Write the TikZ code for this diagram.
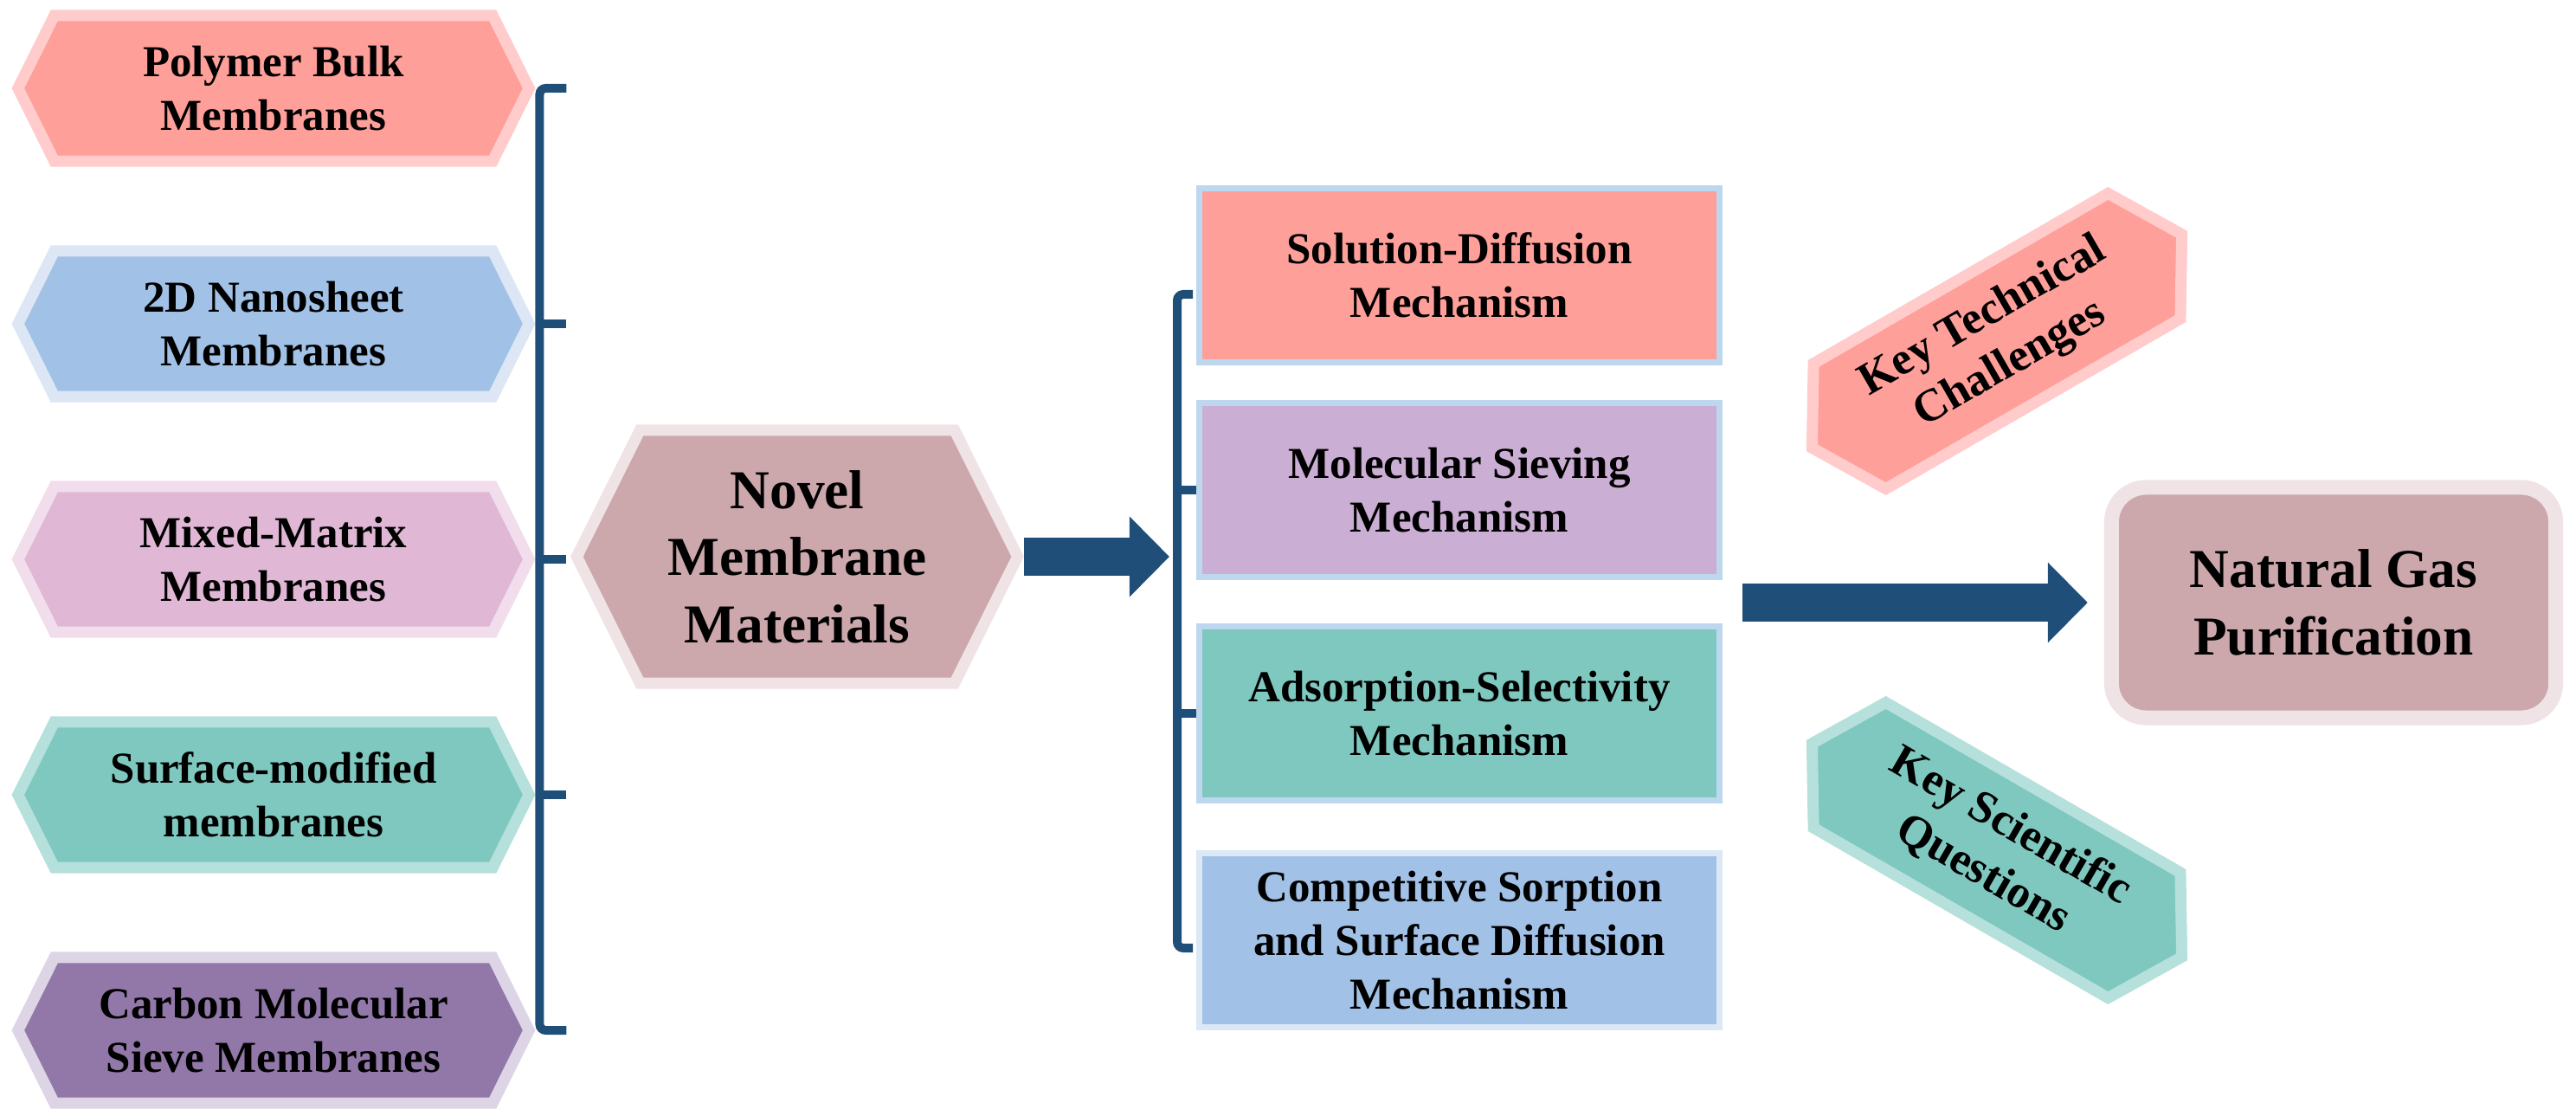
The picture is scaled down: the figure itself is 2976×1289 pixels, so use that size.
\documentclass[tikz,border=0pt]{standalone}
\usepackage{fontspec}
\setmainfont{Liberation Serif}
\usetikzlibrary{shapes.symbols,arrows.meta,calc}

\definecolor{navy}{HTML}{1F4E79}
\definecolor{polyfill}{HTML}{FF9F9A}
\definecolor{polyline}{HTML}{FFCBCB}
\definecolor{nanofill}{HTML}{A2C1E6}
\definecolor{nanoline}{HTML}{DCE6F4}
\definecolor{mixfill}{HTML}{E0B8D5}
\definecolor{mixline}{HTML}{F1DDEB}
\definecolor{surffill}{HTML}{7FC8BF}
\definecolor{surfline}{HTML}{B5E0DB}
\definecolor{cmsfill}{HTML}{9178A8}
\definecolor{cmsline}{HTML}{DDD5E6}
\definecolor{novelfill}{HTML}{CCA8AD}
\definecolor{novelline}{HTML}{F0E3E5}
\definecolor{sievefill}{HTML}{CBAED4}
\definecolor{mechline}{HTML}{BDD7EE}
\definecolor{compline}{HTML}{DCE8F5}

\begin{document}
\begin{tikzpicture}[x=0.01cm, y=-0.01cm,
  hexa/.style={signal, signal to=west and east, signal pointer angle=127,
    line width=0.13cm, minimum width=5.9cm, minimum height=1.68cm, inner sep=0pt,
    align=center, font=\bfseries\fontsize{14.5}{17.6}\selectfont},
  mech/.style={rectangle, draw=mechline, line width=0.07cm, minimum width=6.01cm,
    minimum height=2cm, inner sep=0pt, align=center, font=\bfseries\fontsize{14.5}{17.6}\selectfont},
  key/.style={signal, signal to=west and east, signal pointer angle=118,
    line width=0.13cm, minimum width=4.93cm, minimum height=1.67cm, inner sep=0pt,
    align=center, font=\bfseries\fontsize{15}{18}\selectfont},
  big/.style={font=\bfseries\fontsize{18}{22}\selectfont},
  brk/.style={draw=navy, line width=0.1cm, rounded corners=2pt},
  bigarrow/.style={draw=navy, line width=0.44cm, -{Triangle[length=0.46cm, width=0.9cm]}}]
\useasboundingbox (0,0) rectangle (2976,1289);

% membrane families
\node[hexa, fill=polyfill, draw=polyline] (poly) at (316,102) {Polymer Bulk\\Membranes};
\node[hexa, fill=nanofill, draw=nanoline] (nano) at (316,374) {2D Nanosheet\\Membranes};
\node[hexa, fill=mixfill, draw=mixline] (mixed) at (316,646) {Mixed-Matrix\\Membranes};
\node[hexa, fill=surffill, draw=surfline] (surf) at (316,918) {Surface-modified\\membranes};
\node[hexa, fill=cmsfill, draw=cmsline] (cms) at (316,1190) {Carbon Molecular\\Sieve Membranes};

\node[hexa, big, fill=novelfill, draw=novelline, minimum width=5.09cm, minimum height=2.92cm] (novel) at (921,643) {Novel\\Membrane\\Materials};

% mechanisms
\node[mech, fill=polyfill] (sol) at (1686,318) {Solution-Diffusion\\Mechanism};
\node[mech, fill=sievefill] (sieve) at (1686,566) {Molecular Sieving\\Mechanism};
\node[mech, fill=surffill] (adsorb) at (1686,824) {Adsorption-Selectivity\\Mechanism};
\node[mech, fill=nanofill, draw=compline] (comp) at (1686,1086) {Competitive Sorption\\and Surface Diffusion\\Mechanism};

\node[key, fill=polyfill, draw=polyline, rotate=30] (tech) at (2307,394) {Key Technical\\Challenges};
\node[key, fill=surffill, draw=surfline, rotate=-30] (sci) at (2307,982) {Key Scientific\\Questions};

\node[big, draw=novelline, fill=novelfill, line width=0.17cm, rounded corners=0.4cm,
  minimum width=5.13cm, minimum height=2.66cm, align=center] (ngp) at (2696,696) {Natural Gas\\Purification};

% brackets
\draw[brk] ($(poly.east)+(36,0)$) -| ($(cms.east)+(5,0)$) -- ($(cms.east)+(36,0)$);
\foreach \n in {nano,mixed,surf}
  \draw[brk] ($(\n.east)+(5,0)$) -- ($(\n.east)+(36,0)$);

\coordinate (spine) at (1360,0);
\draw[brk] (1378,340) -| (1360,1095) -- (1378,1095);
\draw[brk] (spine |- sieve.west) -- (sieve.west);
\draw[brk] (spine |- adsorb.west) -- (adsorb.west);

% arrows
\draw[bigarrow, shorten >=0.09cm] (novel.east) -- (novel.east -| spine);
\draw[bigarrow, shorten <=0.23cm, shorten >=0.19cm] (sieve.east |- ngp.west) -- (ngp.west);
\end{tikzpicture}
\end{document}
